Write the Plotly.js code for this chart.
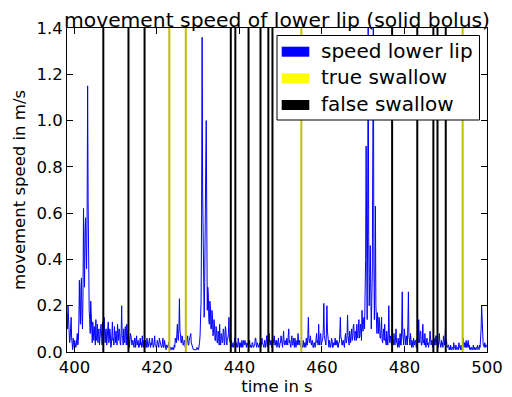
<!DOCTYPE html>
<html>
<head>
<meta charset="utf-8">
<script src="https://cdn.plot.ly/plotly-3.0.1.min.js"></script>
<style>html,body{margin:0;padding:0;background:#fff;}#chart{width:512px;height:397px;}</style>
</head>
<body>
<div id="chart"></div>
<script>
// speed samples of the lower lip, first sample at t0, spacing dt (seconds)
var t0 = 398.2;
var dt = 0.125;
var speedLowerLip = [
0.17,0.10,0.20,0.14,0.11,0.04,0.05,0.12,
0.15,0.06,0.03,0.01,0.06,0.03,0.02,0.05,
0.04,0.02,0.03,0.07,0.08,0.03,0.05,0.13,
0.31,0.18,0.12,0.28,0.32,0.15,0.10,0.24,
0.62,0.40,0.28,0.52,0.58,0.44,0.36,0.60,
1.15,0.65,0.30,0.18,0.14,0.08,0.22,0.12,
0.09,0.04,0.13,0.06,0.05,0.11,0.08,0.03,
0.14,0.05,0.06,0.12,0.04,0.08,0.10,0.03,
0.05,0.09,0.12,0.04,0.03,0.13,0.07,0.05,
0.15,0.06,0.04,0.09,0.10,0.03,0.06,0.12,
0.13,0.04,0.05,0.10,0.08,0.02,0.03,0.07,
0.13,0.05,0.06,0.03,0.11,0.07,0.04,0.09,
0.07,0.03,0.12,0.05,0.05,0.10,0.09,0.04,
0.03,0.08,0.20,0.07,0.06,0.03,0.10,0.05,
0.04,0.11,0.08,0.03,0.12,0.05,0.03,0.07,
0.06,0.02,0.04,0.08,0.07,0.03,0.03,0.05,
0.05,0.03,0.02,0.06,0.06,0.02,0.04,0.07,
0.03,0.05,0.05,0.02,0.02,0.04,0.06,0.03,
0.04,0.02,0.07,0.03,0.02,0.05,0.03,0.02,
0.05,0.03,0.02,0.06,0.04,0.02,0.03,0.05,
0.06,0.03,0.02,0.04,0.03,0.06,0.05,0.02,
0.02,0.04,0.07,0.03,0.03,0.02,0.02,0.05,
0.04,0.02,0.02,0.06,0.05,0.03,0.03,0.02,
0.02,0.04,0.06,0.02,0.02,0.05,0.03,0.01,
0.01,0.03,0.03,0.02,0.02,0.04,0.04,0.02,
0.01,0.02,0.02,0.01,0.01,0.02,0.01,0.01,
0.03,0.02,0.06,0.04,0.04,0.08,0.12,0.06,
0.05,0.10,0.23,0.09,0.08,0.04,0.04,0.07,
0.06,0.03,0.03,0.05,0.05,0.02,0.02,0.04,
0.04,0.06,0.07,0.03,0.03,0.05,0.06,0.08,
0.08,0.04,0.03,0.02,0.02,0.01,0.01,0.01,
0.01,0.01,0.01,0.01,0.02,0.01,0.01,0.01,
0.02,0.04,0.07,0.12,0.22,0.60,1.36,0.70,
0.35,0.20,0.15,0.30,0.45,0.80,1.00,0.40,
0.18,0.28,0.25,0.14,0.12,0.22,0.20,0.10,
0.10,0.18,0.16,0.07,0.08,0.14,0.12,0.05,
0.05,0.11,0.10,0.04,0.04,0.09,0.08,0.03,
0.12,0.04,0.03,0.08,0.07,0.04,0.05,0.10,
0.09,0.03,0.04,0.11,0.10,0.05,0.03,0.06,
0.06,0.08,0.15,0.05,0.04,0.03,0.03,0.05,
0.02,0.03,0.04,0.02,0.03,0.06,0.05,0.02,
0.02,0.04,0.03,0.02,0.06,0.03,0.02,0.04,
0.04,0.02,0.02,0.05,0.03,0.02,0.05,0.03,
0.03,0.05,0.04,0.02,0.02,0.04,0.03,0.02,
0.02,0.03,0.05,0.02,0.03,0.02,0.02,0.04,
0.04,0.02,0.02,0.03,0.03,0.06,0.06,0.03,
0.02,0.04,0.03,0.02,0.02,0.03,0.04,0.02,
0.02,0.03,0.06,0.04,0.03,0.02,0.02,0.05,
0.05,0.02,0.03,0.07,0.07,0.03,0.02,0.06,
0.08,0.04,0.03,0.05,0.05,0.02,0.02,0.03,
0.04,0.06,0.07,0.03,0.03,0.05,0.05,0.02,
0.03,0.04,0.06,0.02,0.02,0.04,0.04,0.07,
0.05,0.02,0.02,0.06,0.09,0.04,0.03,0.05,
0.04,0.03,0.06,0.04,0.03,0.07,0.10,0.04,
0.05,0.03,0.02,0.05,0.07,0.03,0.03,0.06,
0.04,0.02,0.06,0.03,0.02,0.04,0.05,0.03,
0.08,0.04,0.03,0.05,0.04,0.02,0.02,0.03,
0.03,0.02,0.05,0.03,0.02,0.04,0.04,0.02,
0.06,0.03,0.03,0.07,0.15,0.06,0.04,0.05,
0.07,0.04,0.03,0.05,0.05,0.02,0.02,0.04,
0.04,0.02,0.03,0.06,0.08,0.04,0.05,0.03,
0.12,0.05,0.03,0.07,0.08,0.03,0.04,0.06,
0.06,0.10,0.21,0.07,0.05,0.03,0.03,0.08,
0.20,0.09,0.05,0.03,0.02,0.05,0.04,0.02,
0.03,0.06,0.05,0.02,0.02,0.04,0.04,0.03,
0.06,0.03,0.03,0.05,0.05,0.02,0.02,0.04,
0.04,0.08,0.15,0.06,0.06,0.03,0.03,0.05,
0.05,0.03,0.02,0.06,0.08,0.04,0.04,0.07,
0.16,0.07,0.05,0.03,0.09,0.06,0.04,0.08,
0.10,0.05,0.06,0.11,0.12,0.07,0.05,0.09,
0.08,0.05,0.12,0.07,0.06,0.10,0.14,0.06,
0.07,0.12,0.10,0.05,0.18,0.12,0.09,0.14,
0.15,0.10,0.20,0.40,0.89,0.35,0.14,0.60,
1.55,0.50,0.20,0.30,0.46,0.25,0.10,0.22,
0.35,0.90,1.55,0.40,0.14,0.30,0.63,0.20,
0.12,0.08,0.17,0.10,0.08,0.15,0.13,0.06,
0.06,0.10,0.15,0.05,0.04,0.08,0.10,0.05,
0.12,0.06,0.05,0.03,0.09,0.05,0.03,0.07,
0.20,0.08,0.04,0.06,0.07,0.03,0.03,0.05,
0.05,0.03,0.08,0.04,0.03,0.06,0.10,0.04,
0.04,0.02,0.06,0.03,0.02,0.05,0.08,0.03,
0.03,0.10,0.26,0.08,0.05,0.03,0.10,0.06,
0.04,0.03,0.07,0.04,0.03,0.12,0.26,0.07,
0.05,0.03,0.08,0.04,0.02,0.05,0.04,0.02,
0.06,0.03,0.03,0.05,0.05,0.02,0.02,0.06,
0.07,0.04,0.14,0.06,0.04,0.09,0.09,0.03,
0.03,0.05,0.12,0.04,0.05,0.03,0.08,0.04,
0.02,0.04,0.06,0.03,0.04,0.02,0.03,0.05,
0.09,0.04,0.03,0.05,0.05,0.02,0.02,0.04,
0.06,0.03,0.03,0.07,0.07,0.03,0.04,0.02,
0.02,0.05,0.08,0.04,0.03,0.02,0.05,0.03,
0.04,0.02,0.07,0.03,0.03,0.06,0.11,0.04,
0.05,0.02,0.02,0.03,0.03,0.01,0.02,0.01,
0.03,0.01,0.01,0.02,0.02,0.01,0.04,0.02,
0.02,0.01,0.03,0.02,0.01,0.02,0.02,0.01,
0.04,0.02,0.02,0.01,0.03,0.01,0.01,0.02,
0.06,0.03,0.02,0.04,0.04,0.02,0.05,0.02,
0.02,0.04,0.05,0.02,0.03,0.01,0.01,0.02,
0.02,0.01,0.01,0.02,0.03,0.01,0.02,0.01,
0.01,0.02,0.02,0.01,0.03,0.02,0.02,0.01,
0.03,0.02,0.05,0.10,0.20,0.12,0.08,0.03,
0.03,0.02,0.04,0.03,0.02,0.03,0.03,0.02
];
var trueSwallow = [423.0, 427.0, 455.0, 494.1];
var falseSwallow = [407.0, 413.1, 417.0, 437.9, 439.0, 442.2, 445.1, 447.0, 448.0, 477.0, 483.1, 487.0, 488.0, 490.0];
var xTicks = [400, 420, 440, 460, 480, 500];
var yTicks = [0.0, 0.2, 0.4, 0.6, 0.8, 1.0, 1.2, 1.4];
var legendNames = ["speed lower lip", "true swallow", "false swallow"];
var legendColors = ["#0000ff", "#ffff00", "#000000"];

var timeS = speedLowerLip.map(function (v, i) { return +(t0 + i * dt).toFixed(3); });

var font = "DejaVu Sans, sans-serif";

// plot area in pixels (for placing the legend box)
var M = {l: 67, r: 25, t: 28, b: 45};
var W = 512, H = 397;
var pw = W - M.l - M.r, ph = H - M.t - M.b;
function px2x(px) { return (px - M.l) / pw; }
function py2y(py) { return (H - M.b - py) / ph; }

var shapes = [];
falseSwallow.forEach(function (t) {
  shapes.push({type: "line", xref: "x", yref: "paper", x0: t, x1: t, y0: 0, y1: 1,
    line: {color: "#000000", width: 2}, layer: "above"});
});
trueSwallow.forEach(function (t) {
  shapes.push({type: "line", xref: "x", yref: "paper", x0: t, x1: t, y0: 0, y1: 1,
    line: {color: "#bfbf00", width: 2}, layer: "above"});
});

// legend box (drawn over the lines, like the original)
shapes.push({type: "rect", xref: "paper", yref: "paper",
  x0: px2x(277), x1: px2x(479.5), y0: py2y(120), y1: py2y(35.5),
  fillcolor: "#ffffff", line: {color: "#000000", width: 1}, layer: "above"});
var annotations = [];
var rowCenters = [51.7, 78.3, 105];
legendNames.forEach(function (name, i) {
  var c = rowCenters[i];
  shapes.push({type: "rect", xref: "paper", yref: "paper",
    x0: px2x(281.7), x1: px2x(309.3), y0: py2y(c + 5), y1: py2y(c - 5),
    fillcolor: legendColors[i], line: {width: 0}, layer: "above"});
  annotations.push({xref: "paper", yref: "paper", x: px2x(319), y: py2y(c - 1),
    xanchor: "left", yanchor: "middle", showarrow: false, text: name,
    font: {family: font, size: 20, color: "#000000", weight: 400}});
});

var data = [
  {x: timeS, y: speedLowerLip, type: "scatter", mode: "lines", name: legendNames[0],
   line: {color: "#0000ff", width: 1}, showlegend: false, hoverinfo: "skip"}
];

var layout = {
  width: W, height: H,
  margin: {l: M.l, r: M.r, t: M.t, b: M.b, pad: 0},
  paper_bgcolor: "#ffffff", plot_bgcolor: "#ffffff",
  font: {family: font, size: 16.5, color: "#000000", weight: 400},
  title: {text: "movement speed of lower lip (solid bolus)", x: 0.5, xref: "paper",
    y: 1, yref: "paper", yanchor: "bottom", pad: {b: 1},
    font: {family: font, size: 20.3, color: "#000000", weight: 400}},
  xaxis: {range: [398.2, 500], tickvals: xTicks, ticktext: xTicks.map(String),
    ticks: "inside", ticklen: 6, tickcolor: "#000", tickwidth: 1,
    showline: true, linecolor: "#000", linewidth: 1, mirror: "ticks",
    showgrid: false, zeroline: false,
    title: {text: "time in s", standoff: 4, font: {family: font, size: 16.5, weight: 400}},
    tickfont: {family: font, size: 16.5, weight: 400}},
  yaxis: {range: [0, 1.4], tickvals: yTicks, ticktext: yTicks.map(function (v) { return v.toFixed(1); }),
    ticks: "inside", ticklen: 6, tickcolor: "#000", tickwidth: 1,
    showline: true, linecolor: "#000", linewidth: 1, mirror: "ticks",
    showgrid: false, zeroline: false,
    title: {text: "movement speed in m/s", standoff: 6, font: {family: font, size: 16.5, weight: 400}},
    tickfont: {family: font, size: 16.5, weight: 400}},
  shapes: shapes,
  annotations: annotations,
  showlegend: false
};

Plotly.newPlot("chart", data, layout, {displayModeBar: false, staticPlot: true});
</script>
</body>
</html>
